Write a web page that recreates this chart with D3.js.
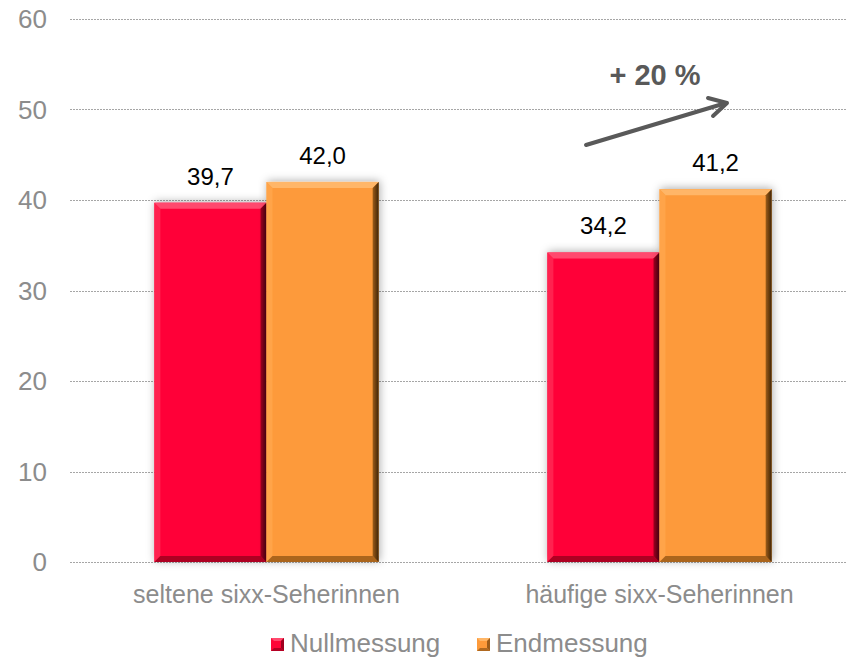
<!DOCTYPE html>
<html>
<head>
<meta charset="utf-8">
<script src="https://cdn.jsdelivr.net/npm/d3@7"></script>
<style>
  html, body { margin: 0; padding: 0; background: #fff; }
  svg { display: block; font-family: Arial, "Liberation Sans", Helvetica, sans-serif; }
</style>
</head>
<body>
<svg id="chart" width="848" height="659"></svg>
<script>
// Chart data
const categories = ["seltene sixx-Seherinnen", "häufige sixx-Seherinnen"];
const seriesNames = ["Nullmessung", "Endmessung"];
const nullmessung = [39.7, 34.2];
const endmessung = [42.0, 41.2];
const yTicks = [0, 10, 20, 30, 40, 50, 60];
const changeLabel = "+ 20 %";

const seriesValues = [nullmessung, endmessung];
const palette = {
  Nullmessung: { base: "#ff0638", light: "#ff4a6e", lightL: "#ff2a55", dark: "#a0001f", darker: "#4a0010" },
  Endmessung:  { base: "#fd9a3a", light: "#ffb667", lightL: "#ffa64c", dark: "#9c5c1a", darker: "#3d2406" }
};

const svg = d3.select("#chart");
const W = 848, H = 659;
const plot = { left: 70, right: 856, top: 19, bottom: 562, gridEnd: 847 };

const y = d3.scaleLinear().domain([0, 60]).range([plot.bottom, plot.top]);
const x0 = d3.scaleBand().domain(categories).range([plot.left, plot.right]).padding(0);
const x1 = d3.scaleBand().domain(seriesNames).range([0, x0.bandwidth()]).paddingInner(0).paddingOuter(0.752);

// Soft shadow around bars
const defs = svg.append("defs");
const f = defs.append("filter").attr("id", "shadow").attr("x", "-30%").attr("y", "-30%").attr("width", "160%").attr("height", "160%");
f.append("feDropShadow").attr("dx", 1).attr("dy", -1).attr("stdDeviation", 4)
  .attr("flood-color", "#000").attr("flood-opacity", 0.32);

// Right-edge gradients for the bevel
seriesNames.forEach(s => {
  const g = defs.append("linearGradient").attr("id", "edge-" + s).attr("x1", 0).attr("x2", 1).attr("y1", 0).attr("y2", 0);
  g.append("stop").attr("offset", "0%").attr("stop-color", palette[s].dark);
  g.append("stop").attr("offset", "100%").attr("stop-color", palette[s].darker);
});

// Gridlines
const grid = svg.append("g").attr("class", "grid");
grid.selectAll("line").data(yTicks).join("line")
  .attr("x1", plot.left).attr("x2", plot.gridEnd)
  .attr("y1", d => Math.round(y(d)) + 0.5).attr("y2", d => Math.round(y(d)) + 0.5)
  .attr("stroke", "#a6a6a6").attr("stroke-width", 1).attr("stroke-dasharray", "2,1");

// Y axis labels
const yAxis = d3.axisLeft(y).tickValues(yTicks).tickSize(0).tickPadding(0).tickFormat(d3.format("d"));
const yg = svg.append("g").attr("transform", "translate(47,0)").call(yAxis);
yg.select(".domain").remove();
yg.selectAll("text").attr("font-size", 26).attr("fill", "#8c8c8c")
  .attr("font-family", "Arial, 'Liberation Sans', sans-serif").attr("dy", "0.34em");

// Bevelled bar drawing
function bevelBar(g, bx, by, bw, bh, s, b) {
  const c = palette[s];
  const wrap = g.append("g").attr("filter", "url(#shadow)");
  wrap.append("rect").attr("x", bx).attr("y", by).attr("width", bw).attr("height", bh).attr("fill", c.base);
  const x2 = bx + bw, y2 = by + bh;
  // top
  wrap.append("polygon").attr("points", [[bx, by], [x2, by], [x2 - b, by + b], [bx + b, by + b]].join(" "))
    .attr("fill", c.light);
  // left
  wrap.append("polygon").attr("points", [[bx, by], [bx + b, by + b], [bx + b, y2 - b], [bx, y2]].join(" "))
    .attr("fill", c.lightL).attr("opacity", 0.8);
  // bottom
  wrap.append("polygon").attr("points", [[bx, y2], [bx + b, y2 - b], [x2 - b, y2 - b], [x2, y2]].join(" "))
    .attr("fill", c.dark).attr("opacity", 0.85);
  // right
  wrap.append("polygon").attr("points", [[x2, by], [x2, y2], [x2 - b, y2 - b], [x2 - b, by + b]].join(" "))
    .attr("fill", "url(#edge-" + s + ")");
}

// Bars
const barsG = svg.append("g").attr("class", "bars");
categories.forEach((cat, ci) => {
  seriesNames.forEach((s, si) => {
    const v = seriesValues[si][ci];
    const bx = x0(cat) + x1(s);
    const by = y(v);
    bevelBar(barsG, bx, by, x1.bandwidth(), y(0) - by, s, 6);
  });
});

// Value labels
const fmt = v => d3.format(".1f")(v).replace(".", ",");
categories.forEach((cat, ci) => {
  seriesNames.forEach((s, si) => {
    const v = seriesValues[si][ci];
    svg.append("text")
      .attr("x", x0(cat) + x1(s) + x1.bandwidth() / 2)
      .attr("y", y(v) - 18)
      .attr("text-anchor", "middle").attr("font-size", 24).attr("fill", "#000")
      .text(fmt(v));
  });
});

// Category labels
const xAxis = d3.axisBottom(x0).tickSize(0).tickPadding(0);
const xg = svg.append("g").attr("transform", "translate(0,603)").call(xAxis);
xg.select(".domain").remove();
xg.selectAll("text").attr("font-size", 25).attr("fill", "#8c8c8c")
  .attr("font-family", "Arial, 'Liberation Sans', sans-serif").attr("dy", 0);

// Change annotation: arrow and label
const ann = svg.append("g").attr("stroke", "#595959").attr("stroke-width", 4).attr("stroke-linecap", "round").attr("fill", "none");
ann.append("line").attr("x1", 586).attr("y1", 145).attr("x2", 726).attr("y2", 103);
ann.append("polyline").attr("points", "708,98 727,103 713,116").attr("stroke-linejoin", "round");
svg.append("text").attr("x", 655).attr("y", 85).attr("text-anchor", "middle")
  .attr("font-size", 29).attr("font-weight", "bold").attr("fill", "#595959").text(changeLabel);

// Legend
const legend = svg.append("g").attr("class", "legend");
const legendX = [271, 477];
seriesNames.forEach((s, i) => {
  const lg = legend.append("g").attr("transform", `translate(${legendX[i]},638)`);
  const c = palette[s];
  const m = 13, b = 3;
  lg.append("rect").attr("width", m).attr("height", m).attr("fill", c.base);
  lg.append("polygon").attr("points", [[0, 0], [m, 0], [m - b, b], [b, b]].join(" ")).attr("fill", c.light);
  lg.append("polygon").attr("points", [[m, 0], [m, m], [m - b, m - b], [m - b, b]].join(" ")).attr("fill", c.dark);
  lg.append("polygon").attr("points", [[0, m], [b, m - b], [m - b, m - b], [m, m]].join(" ")).attr("fill", c.dark).attr("opacity", 0.8);
  lg.append("text").attr("x", 19).attr("y", 14).attr("font-size", 26).attr("fill", "#8c8c8c").text(s);
});
</script>
</body>
</html>
